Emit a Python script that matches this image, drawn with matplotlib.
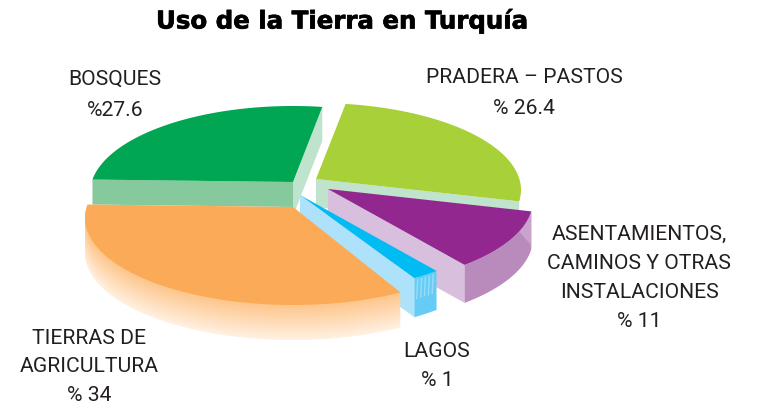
import numpy as np
import matplotlib
matplotlib.use('Agg')
import matplotlib.pyplot as plt
import matplotlib.patheffects as pe
from matplotlib.colors import to_rgb
from matplotlib.patches import Polygon

# Values in the order they go round the pie, clockwise from the top
names = ['pastos', 'asentamientos', 'lagos', 'agricultura', 'bosques']
values = [26.4, 11, 1, 34, 27.6]

title = 'Uso de la Tierra en Turquía'
labels = ['PRADERA – PASTOS\n% 26.4',
          'ASENTAMIENTOS,\nCAMINOS Y OTRAS\nINSTALACIONES\n% 11',
          'LAGOS\n% 1',
          'TIERRAS DE\nAGRICULTURA\n% 34',
          'BOSQUES\n%27.6']

# Layout of the drawing, in pixels of the 757x409 image
start_angle = 80.5
apex = {'pastos': (316, 179), 'asentamientos': (328, 189), 'lagos': (300, 195),
        'agricultura': (293, 207), 'bosques': (293, 182)}
radius_x = {'pastos': 205, 'asentamientos': 205, 'lagos': 205, 'agricultura': 208, 'bosques': 203}
depth = {'pastos': 28, 'asentamientos': 38, 'lagos': 39, 'agricultura': 35, 'bosques': 25}
# the artwork opens the thin slice up a little so it can be seen
nudge = {'asentamientos': (0, 1.5), 'lagos': (1.5, -2), 'agricultura': (-4.5, -1.5), 'bosques': (-1.5, 0)}
top_color = {'pastos': '#a8d038', 'asentamientos': '#92278f', 'lagos': '#00bcf2',
             'agricultura': '#fbab57', 'bosques': '#00a651'}
radial_color = {'pastos': '#bfe3cd', 'asentamientos': '#d8bfdd', 'lagos': '#aee2fa',
                'bosques': '#bfe3cd'}
rim_color = {'asentamientos': '#b98bbd', 'lagos': '#66ccf5', 'bosques': '#85c99c'}
label_pos = [(524, 93), (639, 278), (437, 366), (89, 367), (115, 95)]
label_spacing = [1.8, 1.66, 1.66, 1.66, 1.85]
RY = 87
DROP = 11   # the ellipse sits this far below the slice point

fig = plt.figure(figsize=(7.57, 4.09), dpi=100, facecolor='white')
ax = fig.add_axes([0, 0, 1, 1])
ax.set_xlim(0, 757)
ax.set_ylim(409, 0)
ax.axis('off')


def arc(name, a0, a1, n=100):
    # Rays from the slice point out to an ellipse that is centred lower down
    t = np.radians(np.linspace(a0, a1, n))
    e = DROP / RY
    r = -e * np.sin(t) + np.sqrt(e**2 * np.sin(t)**2 - e**2 + 1)
    x = apex[name][0] + radius_x[name] * r * np.cos(t)
    y = apex[name][1] - RY * r * np.sin(t)
    return np.column_stack([x, y])


def shifted(pts, dy):
    return pts + np.array([0, dy])


def poly(pts, color, z):
    ax.add_patch(Polygon(pts, closed=True, facecolor=color, edgecolor='none', lw=0, zorder=z))


def face(edge, d, color, z):
    edge = np.asarray(edge, dtype=float)
    poly(np.vstack([edge, shifted(edge, d)[::-1]]), color, z)


# Angles come from the values
sweeps = np.array(values) * 3.6
ends = start_angle - np.cumsum(sweeps)
starts = ends + sweeps
angles = {}
for n, s, e in zip(names, starts, ends):
    ds, de = nudge.get(n, (0, 0))
    angles[n] = (s + ds, e + de)
order = ['bosques', 'pastos', 'asentamientos', 'lagos', 'agricultura']

for z, name in enumerate(order):
    a0, a1 = angles[name]
    pts = arc(name, a0, a1)
    c = np.array(apex[name], dtype=float)
    d = depth[name]
    sector = np.vstack([c, pts])
    base = z * 10

    if name == 'agricultura':
        # Rim fades out towards the bottom
        c1 = np.array(to_rgb('#fdc68c'))
        c2 = np.array(to_rgb('#fff1e2'))
        for k in range(d * 2, 0, -1):
            f = k / (d * 2)
            poly(shifted(sector, k / 2), c1 + (c2 - c1) * f, base)
    elif name == 'pastos':
        face([c, pts[-1]], d, radial_color[name], base)
    elif name == 'bosques':
        # front face under the left edge, pale face under the right edge
        face([pts[0], c], d, rim_color[name], base)
        face([c, pts[-1]], 34, radial_color[name], base)
    else:
        face([c, pts[-1]], d, radial_color[name], base)
        poly(np.vstack([pts, shifted(pts, d)[::-1]]), rim_color[name], base + 1)
        if name == 'asentamientos':
            # lighter streak on the rim next to the right corner
            poly(np.vstack([pts[:35], [pts[0] + np.array([0, 34])]]), '#c9a3cd', base + 2)
        if name == 'lagos':
            for f in np.linspace(0.15, 0.85, 5):
                p = pts[0] + (pts[-1] - pts[0]) * f
                ax.plot([p[0], p[0] - 1], [p[1] + 2, p[1] + 22], color='#9adcf8', lw=1,
                        zorder=base + 2, solid_capstyle='butt')

    poly(sector, top_color[name], base + 5)

plt.rcParams['font.family'] = ['Roboto', 'DejaVu Sans']
ax.text(341, 21, title, ha='center', va='center', fontsize=17.6,
        fontweight='bold', family='DejaVu Sans', color='black', zorder=100,
        path_effects=[pe.withStroke(linewidth=0.5, foreground='black')])
for text, (x, y), sp in zip(labels, label_pos, label_spacing):
    ax.text(x, y, text, ha='center', va='center', multialignment='center',
            fontsize=15.2, linespacing=sp, color='#231f20', zorder=100)

fig.savefig('out.png', dpi=100, facecolor='white')
